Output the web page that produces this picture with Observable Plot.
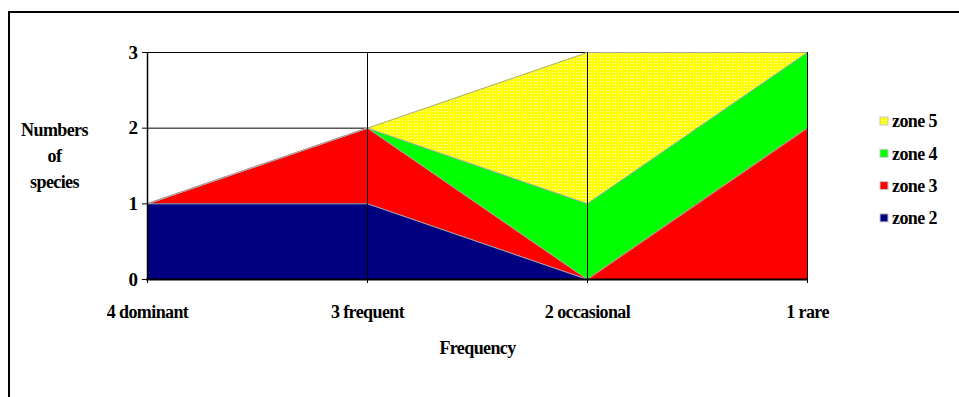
<!DOCTYPE html>
<html><head><meta charset="utf-8">
<script src="https://cdn.jsdelivr.net/npm/d3@7"></script>
<script src="https://cdn.jsdelivr.net/npm/@observablehq/plot@0.6"></script>
<style>
html,body{margin:0;padding:0;background:#fff;overflow:hidden}
#chart{position:relative;width:959px;height:397px}
#frame{position:absolute;left:8px;top:11px;width:1000px;height:500px;border:2px solid #000;box-sizing:border-box}
#chart svg{position:absolute;left:0;top:0}
</style></head><body>
<div id="chart"><div id="frame"></div></div>
<script>
// Species counts per frequency class, one array per zone
const frequencies = ["4 dominant", "3 frequent", "2 occasional", "1 rare"];
const zones = ["zone 2", "zone 3", "zone 4", "zone 5"];
const zone2 = [1, 1, 0, 0];
const zone3 = [0, 1, 0, 2];
const zone4 = [0, 0, 1, 1];
const zone5 = [0, 0, 2, 0];
const yTicks = [0, 1, 2, 3];
const zoneColors = ["#000080", "#ff0000", "#00ff00", "url(#dots)"];

const series = [zone2, zone3, zone4, zone5];
const rows = zones.flatMap((z, i) =>
  frequencies.map((f, j) => ({frequency: f, zone: z, count: series[i][j]}))
);

const chart = Plot.plot({
  width: 959,
  height: 397,
  marginLeft: 146,
  marginRight: 151,
  marginTop: 52,
  marginBottom: 118,
  style: {
    fontFamily: "'Liberation Serif', 'Times New Roman', serif",
    fontWeight: "bold",
    fontSize: "18px",
    letterSpacing: "-0.6px",
    background: "transparent",
    overflow: "visible",
    color: "#000"
  },
  x: {type: "point", domain: frequencies, padding: 0},
  y: {domain: [0, 3], ticks: yTicks},
  color: {type: "ordinal", domain: zones, range: zoneColors},
  marks: [
    Plot.ruleY(yTicks, {stroke: "#000", strokeWidth: 1}),
    Plot.areaY(rows, {x: "frequency", y: "count", z: "zone", fill: "zone", order: zones}),
    Plot.lineY(rows, Plot.stackY2({x: "frequency", y: "count", z: "zone", order: zones, stroke: "#a8a8a8", strokeWidth: 1})),
    Plot.ruleX(frequencies, {x: d => d, stroke: "#000", strokeWidth: 1}),
    Plot.axisY({ticks: yTicks, tickFormat: "d", tickSize: 4, tickPadding: 5, label: null, fontSize: 19}),
    Plot.axisX({tickSize: 4, tickPadding: 22, label: null}),
    Plot.ruleY([0], {stroke: "#000", strokeWidth: 2}),
    Plot.ruleX([frequencies[0]], {stroke: "#000", strokeWidth: 1.5}),
    Plot.text(["Numbers\nof\nspecies"], {frameAnchor: "left", textAnchor: "middle", dx: -92, dy: -12, lineHeight: 1.45}),
    Plot.text(["Frequency"], {frameAnchor: "bottom", dy: 74})
  ]
});

const svg = d3.select(chart);

// dotted yellow fill for zone 5
const pattern = svg.insert("defs", ":first-child")
  .append("pattern")
  .attr("id", "dots")
  .attr("patternUnits", "userSpaceOnUse")
  .attr("width", 3)
  .attr("height", 3);
pattern.append("rect").attr("width", 3).attr("height", 3).attr("fill", "#ffff00");
pattern.append("rect").attr("width", 1).attr("height", 1).attr("fill", "#ffffe8");

// legend, top zone first
const legend = svg.append("g")
  .attr("font-size", 18)
  .attr("letter-spacing", "-0.6px")
  .attr("text-anchor", "start");
zones.slice().reverse().forEach((z, i) => {
  const cy = 121 + 32.3 * i;
  const idx = zones.indexOf(z);
  legend.append("rect")
    .attr("x", 880).attr("y", cy - 4)
    .attr("width", 8).attr("height", 8)
    .attr("fill", zoneColors[idx])
    .attr("stroke", "#c8c8c8").attr("stroke-width", 1);
  legend.append("text")
    .attr("x", 892).attr("y", cy).attr("dy", "0.35em")
    .attr("text-anchor", "start")
    .attr("fill", "#000")
    .text(z);
});

document.getElementById("chart").appendChild(chart);
</script>
</body></html>
